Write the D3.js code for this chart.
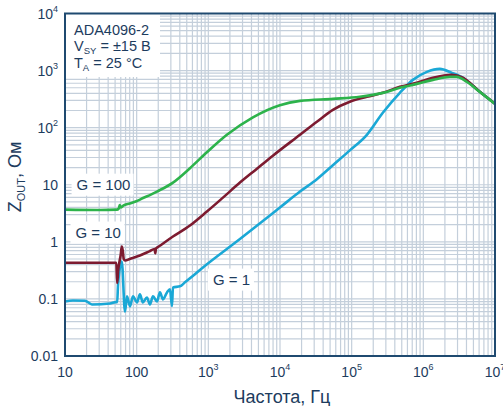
<!DOCTYPE html>
<html>
<head>
<meta charset="utf-8">
<script src="https://cdn.jsdelivr.net/npm/d3@7"></script>
<style>
    body { margin: 0; background: #fff; }
    text { font-family: "Liberation Sans", Arial, sans-serif; fill: #1d3c5e; }
</style>
</head>
<body>
<svg id="chart" width="503" height="406"></svg>
<script>
// values: [frequency Hz, Zout Ohm]
const g100 = [
    [10, 3.67], [30, 3.62], [53, 3.67], [56, 3.8], [58, 4.4], [60, 4.0], [65, 4.3],
    [80, 4.7], [101, 5.2], [111, 5.5], [192, 7.6], [321, 10.9], [554, 19.5], [955, 37],
    [1815, 75], [4190, 152], [9960, 248], [19000, 295], [54700, 320], [130000, 347],
    [272000, 407], [470000, 499], [811000, 585], [1.36e6, 687], [2.34e6, 776],
    [2.93e6, 776], [4.05e6, 634], [6.14e6, 424], [9.94e6, 262]
];
const g10 = [
    [10, 0.43], [30, 0.43], [52, 0.43], [53.5, 0.19], [55, 0.3], [60, 0.6], [62, 0.83],
    [64, 0.7], [66, 0.5], [69, 0.47], [80, 0.5], [111, 0.575], [150, 0.68], [178, 0.75],
    [182, 0.63], [186, 0.77], [192, 0.79], [321, 1.24], [554, 1.93], [955, 3.39],
    [1600, 5.95], [2760, 10.9], [4770, 19.1], [7960, 32.3], [19000, 75], [32700, 127],
    [54700, 205], [94400, 284], [163000, 347], [272000, 407], [470000, 519],
    [811000, 610], [1.36e6, 745], [2.5e6, 841], [3.5e6, 760], [6.14e6, 424], [1e7, 262]
];
const g1 = [
    [10, 0.09], [12.9, 0.094], [19, 0.093], [23.8, 0.08], [42.5, 0.083], [51, 0.088],
    [53.5, 0.088], [55, 0.18], [62, 0.45], [68.7, 0.06], [73.3, 0.111], [80.7, 0.074],
    [88.8, 0.111], [101, 0.087], [111, 0.12], [122, 0.087], [139, 0.106], [153, 0.08],
    [169, 0.111], [192, 0.09], [211, 0.13], [233, 0.098], [265, 0.13], [291, 0.147],
    [311, 0.075], [321, 0.159], [402, 0.166], [472, 0.195], [554, 0.23], [841, 0.356],
    [2760, 1.12], [9980, 4.0], [19000, 7.6], [32700, 12.5], [54700, 22],
    [94400, 40], [163000, 75], [272000, 182], [470000, 407], [714000, 687],
    [1.12e6, 950], [1.7e6, 1070], [2.5e6, 912], [3.5e6, 760], [6.14e6, 424], [1e7, 262]
];
const series = [
    {name: 'G = 1', data: g1, color: '#1aa8d6'},
    {name: 'G = 10', data: g10, color: '#7d1b30'},
    {name: 'G = 100', data: g100, color: '#2db34b'}
];
const xDecades = [1, 2, 3, 4, 5, 6, 7];
const yDecades = [-2, -1, 0, 1, 2, 3, 4];
const yPlain = {'-2': '0.01', '-1': '0.1', '0': '1', '1': '10'};
const xPlain = {'1': '10', '2': '100'};

const svg = d3.select('svg#chart');
const x = d3.scaleLog().domain([10, 1e7]).range([65, 495]);
const y = d3.scaleLog().domain([0.01, 1e4]).range([356, 13.5]);

// grid
const grid = svg.append('g').attr('stroke', '#c4cfdb').attr('stroke-width', 1.2);
grid.selectAll('line.v')
    .data(x.ticks())
    .enter()
    .append('line')
    .attr('x1', d => x(d)).attr('x2', d => x(d))
    .attr('y1', y.range()[0]).attr('y2', y.range()[1]);
grid.selectAll('line.h')
    .data(y.ticks())
    .enter()
    .append('line')
    .attr('y1', d => y(d)).attr('y2', d => y(d))
    .attr('x1', x.range()[0]).attr('x2', x.range()[1]);

// white legend box over grid
svg.append('rect').attr('x', 66).attr('y', 14).attr('width', 94).attr('height', 63).attr('fill', '#fff');

svg.append('clipPath').attr('id', 'plot')
    .append('rect').attr('x', 65).attr('y', 13.5).attr('width', 430).attr('height', 342.5);

const line = d3.line()
    .x(d => x(d[0]))
    .y(d => y(d[1]))
    .curve(d3.curveMonotoneX);
svg.append('g').attr('clip-path', 'url(#plot)')
    .selectAll('path')
    .data(series)
    .enter()
    .append('path')
    .attr('d', d => line(d.data))
    .attr('fill', 'none')
    .attr('stroke', d => d.color)
    .attr('stroke-width', 2.6)
    .attr('stroke-linejoin', 'round');

// frame
svg.append('rect')
    .attr('x', 65).attr('y', 13.5).attr('width', 430).attr('height', 342.5)
    .attr('fill', 'none').attr('stroke', '#1f4a70').attr('stroke-width', 2);

// y tick labels
const yl = svg.append('g').selectAll('text')
    .data(yDecades)
    .enter()
    .append('text')
    .attr('x', 58)
    .attr('y', d => y(Math.pow(10, d)) + 5)
    .attr('text-anchor', 'end')
    .style('font-size', '14px');
yl.filter(d => yPlain[d] !== undefined).text(d => yPlain[d]);
yl.filter(d => yPlain[d] === undefined).each(function(d) {
    const t = d3.select(this);
    t.append('tspan').text('10');
    t.append('tspan').attr('dy', -7).style('font-size', '9px').text(d);
});

// x tick labels
const xl = svg.append('g').selectAll('text')
    .data(xDecades)
    .enter()
    .append('text')
    .attr('x', d => x(Math.pow(10, d)))
    .attr('y', 377)
    .attr('text-anchor', 'middle')
    .style('font-size', '14px');
xl.filter(d => xPlain[d] !== undefined).text(d => xPlain[d]);
xl.filter(d => xPlain[d] === undefined).each(function(d) {
    const t = d3.select(this);
    t.append('tspan').text('10');
    t.append('tspan').attr('dy', -7).style('font-size', '9px').text(d);
});

// axis titles
svg.append('text')
    .attr('x', 282).attr('y', 403)
    .attr('text-anchor', 'middle')
    .style('font-size', '18px')
    .text('Частота, Гц');
const yt = svg.append('text')
    .attr('transform', 'translate(21,177) rotate(-90)')
    .attr('text-anchor', 'middle')
    .style('font-size', '18px');
yt.append('tspan').text('Z');
yt.append('tspan').attr('dy', 4).style('font-size', '11px').text('OUT');
yt.append('tspan').attr('dy', -4).text(', Ом');

// legend text
const lg = svg.append('g').style('font-size', '14.5px');
lg.append('text').attr('x', 74).attr('y', 34.5).text('ADA4096-2');
const v = lg.append('text').attr('x', 74).attr('y', 51);
v.append('tspan').text('V');
v.append('tspan').attr('dy', 3).style('font-size', '9.5px').text('SY');
v.append('tspan').attr('dy', -3).text(' = ±15 В');
const ta = lg.append('text').attr('x', 74).attr('y', 67.5);
ta.append('tspan').text('T');
ta.append('tspan').attr('dy', 3).style('font-size', '9.5px').text('A');
ta.append('tspan').attr('dy', -3).text(' = 25 °C');

// curve labels with white boxes
const curveLabels = [
    {text: 'G = 100', f: 14.5, z: 8.2},
    {text: 'G = 10', f: 14, z: 1.19},
    {text: 'G = 1', f: 1160, z: 0.178}
];
const cl = svg.append('g').selectAll('g')
    .data(curveLabels)
    .enter()
    .append('g')
    .attr('transform', d => 'translate(' + x(d.f) + ',' + y(d.z) + ')');
cl.append('rect')
    .attr('x', -5).attr('y', -16)
    .attr('height', 22)
    .attr('width', d => d.text.length * 8 + 6)
    .attr('fill', '#fff');
cl.append('text')
    .style('font-size', '15px')
    .text(d => d.text);
</script>
</body>
</html>
